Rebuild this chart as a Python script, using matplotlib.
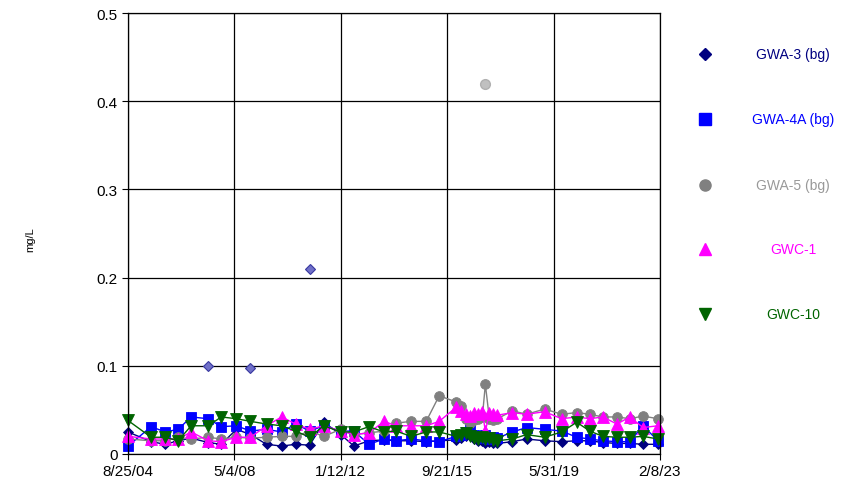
import pandas as pd
import matplotlib
matplotlib.use("Agg")
import matplotlib.pyplot as plt
import matplotlib.dates as mdates
from matplotlib.ticker import FuncFormatter

plt.rcParams['font.family'] = ['Liberation Sans', 'DejaVu Sans']

# Fechas de muestreo (comunes a todos los pozos)
dates = pd.to_datetime([
    "2004-08-25", "2005-06-14", "2005-12-09", "2006-05-23", "2006-11-03",
    "2007-06-08", "2007-11-20", "2008-05-30", "2008-11-24", "2009-06-15",
    "2009-12-23", "2010-06-19", "2010-12-14", "2011-06-10", "2012-01-13",
    "2012-06-26", "2013-01-03", "2013-07-13", "2013-12-12", "2014-06-21",
    "2014-12-29", "2015-06-12", "2016-01-14", "2016-03-18", "2016-05-21",
    "2016-07-11", "2016-08-30", "2016-10-20", "2016-12-10", "2017-01-17",
    "2017-03-09", "2017-04-29", "2017-06-19", "2017-12-27", "2018-06-23",
    "2019-02-07", "2019-09-11", "2020-03-20", "2020-09-01", "2021-02-14",
    "2021-08-11", "2022-01-23", "2022-07-07", "2023-01-14",
])

gwa3 = [0.025, 0.014, 0.011, 0.015, 0.018, 0.013, 0.011, 0.028, 0.022, 0.011,
        0.009, 0.011, 0.010, 0.036, 0.022, 0.009, 0.015, 0.016, 0.015, 0.015,
        0.014, 0.015, 0.016, 0.018, 0.020, 0.022, 0.017, 0.015, 0.015, 0.013,
        0.014, 0.013, 0.012, 0.014, 0.017, 0.015, 0.014, 0.015, 0.015, 0.013,
        0.012, 0.012, 0.011, 0.011]
gwa4a = [0.009, 0.031, 0.025, 0.028, 0.042, 0.040, 0.031, 0.032, 0.026, 0.028,
         0.025, 0.034, 0.026, 0.032, 0.026, 0.026, 0.011, 0.017, 0.015, 0.017,
         0.015, 0.014, 0.020, 0.022, 0.025, 0.028, 0.022, 0.020, 0.018, 0.022,
         0.017, 0.019, 0.018, 0.025, 0.030, 0.028, 0.026, 0.019, 0.017, 0.015,
         0.014, 0.014, 0.032, 0.015]
gwa5 = [0.017, 0.015, 0.015, 0.019, 0.017, 0.019, 0.017, 0.019, 0.018, 0.019,
        0.020, 0.020, 0.026, 0.020, 0.028, 0.022, 0.024, 0.026, 0.035, 0.037,
        0.037, 0.066, 0.059, 0.054, 0.040, 0.035, 0.038, 0.040, 0.042, 0.079,
        0.040, 0.038, 0.040, 0.049, 0.045, 0.051, 0.045, 0.047, 0.045, 0.042,
        0.042, 0.040, 0.043, 0.040]
gwc1 = [0.020, 0.017, 0.017, 0.017, 0.025, 0.015, 0.014, 0.019, 0.019, 0.032,
        0.042, 0.034, 0.028, 0.032, 0.026, 0.022, 0.024, 0.037, 0.032, 0.032,
        0.032, 0.037, 0.053, 0.049, 0.045, 0.043, 0.047, 0.045, 0.048, 0.026,
        0.046, 0.045, 0.044, 0.047, 0.045, 0.048, 0.040, 0.042, 0.040, 0.042,
        0.034, 0.042, 0.030, 0.032]
gwc10 = [0.038, 0.019, 0.019, 0.015, 0.032, 0.032, 0.042, 0.040, 0.037, 0.034,
         0.032, 0.026, 0.019, 0.032, 0.025, 0.025, 0.031, 0.025, 0.026, 0.020,
         0.025, 0.025, 0.020, 0.022, 0.024, 0.020, 0.018, 0.017, 0.019, 0.017,
         0.018, 0.016, 0.015, 0.017, 0.022, 0.019, 0.025, 0.036, 0.026, 0.020,
         0.019, 0.019, 0.020, 0.017]

# Valores atipicos (sin unir con linea)
gwa3_out_dates = pd.to_datetime(["2007-06-08", "2008-11-24", "2010-12-14"])
gwa3_out = [0.100, 0.097, 0.210]
gwa5_out_dates = pd.to_datetime(["2017-01-17"])
gwa5_out = [0.420]

labels = ["GWA-3 (bg)", "GWA-4A (bg)", "GWA-5 (bg)", "GWC-1", "GWC-10"]
colors = ["#000080", "#0000FF", "#808080", "#FF00FF", "#006400"]
text_colors = ["#000080", "#0000FF", "#999999", "#FF00FF", "#006400"]
markers = ["D", "s", "o", "^", "v"]
msizes = [5.5, 7, 7, 8, 8]

tick_dates = pd.to_datetime(["2004-08-25", "2008-05-04", "2012-01-12",
                             "2015-09-21", "2019-05-31", "2023-02-08"])

fig = plt.figure(figsize=(8.58, 4.89), dpi=100)
ax = fig.add_axes([128 / 858, 34 / 489, 532 / 858, 441 / 489])

series = [gwa3, gwa4a, gwa5, gwc1, gwc10]
for vals, c, m, ms in zip(series, colors, markers, msizes):
    ax.plot(dates, vals, color=c, marker=m, markersize=ms, linewidth=1,
            markeredgecolor=c, markeredgewidth=0.6, clip_on=False)

ax.plot(gwa3_out_dates, gwa3_out, linestyle="none", marker="D", markersize=5.5,
        markerfacecolor="#7070C8", markeredgecolor="#3838A0", markeredgewidth=0.8)
ax.plot(gwa5_out_dates, gwa5_out, linestyle="none", marker="o", markersize=7,
        markerfacecolor="#C0C0C0", markeredgecolor="#B0B0B0")

ax.set_xlim(tick_dates[0], tick_dates[-1])
ax.set_ylim(0, 0.5)
ax.set_xticks(tick_dates)
ax.xaxis.set_major_formatter(FuncFormatter(
    lambda v, p: (lambda d: f"{d.month}/{d.day}/{d:%y}")(mdates.num2date(v))))
ax.set_yticks([0, 0.1, 0.2, 0.3, 0.4, 0.5])
ax.yaxis.set_major_formatter(FuncFormatter(lambda v, p: f"{v:g}"))
ax.tick_params(labelsize=11, direction="out", length=4, color="black")
ax.grid(True, color="black", linewidth=0.9)
ax.set_axisbelow(True)
for s in ax.spines.values():
    s.set_color("black")
    s.set_linewidth(0.9)

fig.text(30 / 858, 1 - 240 / 489, "mg/L", rotation=90, fontsize=8,
         ha="center", va="center")

# Leyenda a la derecha
lax = fig.add_axes([0, 0, 1, 1], facecolor="none")
lax.set_xlim(0, 858)
lax.set_ylim(489, 0)
lax.axis("off")
rows = [55, 120, 186, 250, 315]
for y, lab, c, tc, m in zip(rows, labels, colors, text_colors, markers):
    lax.plot([705], [y], marker=m, color=c, markersize=8 if m != "D" else 6,
             linestyle="none")
    lax.text(793, y, lab, color=tc, fontsize=10, ha="center", va="center")

fig.savefig("out.png", dpi=100)
